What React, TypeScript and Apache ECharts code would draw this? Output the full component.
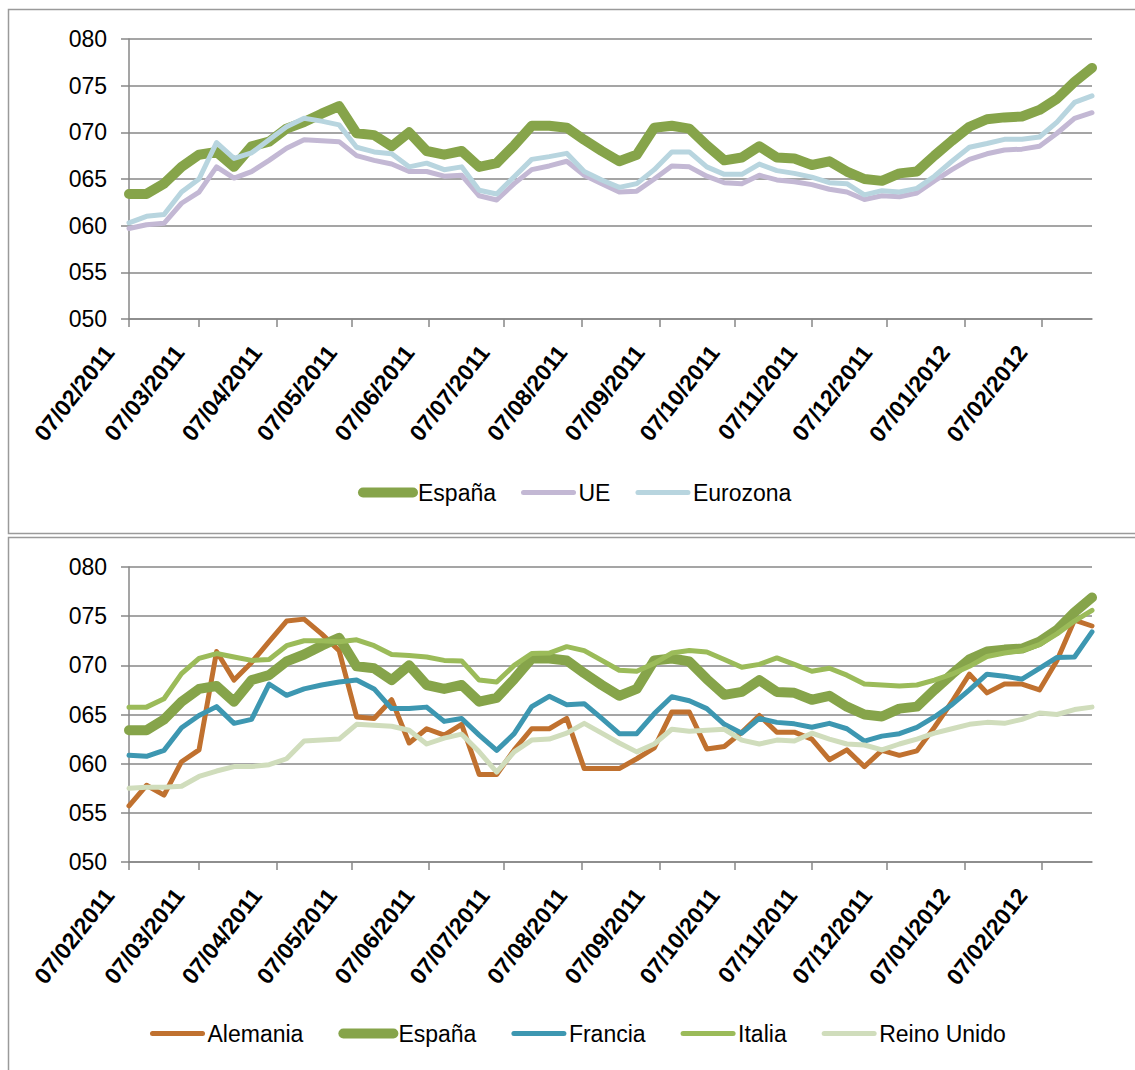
import React, { useEffect, useRef } from "react";
import * as echarts from "echarts";

// ---------- DATA ----------
const firstDate = "07/02/2011";
const lastDate = "27/02/2012";
const tickLabels = [
  "07/02/2011", "07/03/2011", "07/04/2011", "07/05/2011", "07/06/2011", "07/07/2011",
  "07/08/2011", "07/09/2011", "07/10/2011", "07/11/2011", "07/12/2011", "07/01/2012", "07/02/2012",
];

const espana = [
  63.4, 63.4, 64.5, 66.3, 67.6, 67.9, 66.3, 68.5, 69.0, 70.4,
  71.1, 72.0, 72.8, 69.9, 69.7, 68.5, 70.0, 68.0, 67.6, 68.0,
  66.3, 66.7, 68.6, 70.7, 70.7, 70.5, 69.2, 68.0, 66.9, 67.6,
  70.5, 70.7, 70.4, 68.6, 67.0, 67.3, 68.5, 67.3, 67.2, 66.5,
  66.9, 65.8, 65.0, 64.8, 65.6, 65.8, 67.5, 69.1, 70.6, 71.4,
  71.6, 71.7, 72.4, 73.6, 75.4, 76.9,
];
const ue = [
  59.7, 60.1, 60.25, 62.4, 63.6, 66.3, 65.1, 65.8, 67.0, 68.3,
  69.2, 69.1, 69.0, 67.5, 67.0, 66.6, 65.8, 65.8, 65.3, 65.4,
  63.2, 62.75, 64.5, 66.0, 66.4, 66.9, 65.4, 64.5, 63.6, 63.7,
  65.0, 66.4, 66.3, 65.3, 64.6, 64.5, 65.4, 64.9, 64.7, 64.4,
  63.9, 63.6, 62.8, 63.2, 63.1, 63.5, 64.8, 66.0, 67.1, 67.7,
  68.1, 68.2, 68.5, 69.9, 71.5, 72.1,
];
const eurozona = [
  60.3, 61.0, 61.2, 63.6, 65.0, 68.9, 67.2, 67.8, 69.2, 70.6,
  71.5, 71.2, 70.8, 68.4, 67.9, 67.7, 66.3, 66.7, 66.0, 66.3,
  63.8, 63.4, 65.25, 67.1, 67.4, 67.75, 65.8, 64.9, 64.1, 64.5,
  66.0, 67.9, 67.9, 66.3, 65.5, 65.5, 66.6, 65.9, 65.6, 65.2,
  64.6, 64.5, 63.3, 63.75, 63.6, 64.0, 65.3, 66.9, 68.4, 68.8,
  69.25, 69.25, 69.5, 71.1, 73.2, 73.9,
];
const alemania = [
  55.7, 57.8, 56.8, 60.2, 61.4, 71.4, 68.5, 70.3, 72.4, 74.5,
  74.7, 73.2, 71.5, 64.75, 64.6, 66.5, 62.1, 63.55, 62.9, 64.0,
  58.9, 58.9, 61.4, 63.55, 63.55, 64.6, 59.5, 59.5, 59.5, 60.5,
  61.6, 65.25, 65.25, 61.5, 61.75, 63.2, 64.9, 63.2, 63.2, 62.5,
  60.4, 61.4, 59.7, 61.35, 60.85, 61.3, 63.7, 66.3, 69.1, 67.2,
  68.1, 68.1, 67.5, 70.5, 74.6, 74.0,
];
const francia = [
  60.85, 60.75, 61.35, 63.66, 64.9, 65.8, 64.1, 64.5, 68.1, 66.95,
  67.6, 68.0, 68.3, 68.5, 67.6, 65.6, 65.6, 65.75, 64.3, 64.6,
  62.9, 61.35, 63.05, 65.8, 66.85, 66.0, 66.1, 64.6, 63.05, 63.05,
  65.1, 66.8, 66.4, 65.6, 64.0, 63.1, 64.6, 64.2, 64.05, 63.7,
  64.1, 63.55, 62.3, 62.8, 63.05, 63.7, 64.75, 66.0, 67.5, 69.1,
  68.9, 68.6, 69.7, 70.8, 70.85, 73.4,
];
const italia = [
  65.75, 65.75, 66.6, 69.15, 70.7, 71.2, 70.85, 70.5, 70.6, 72.0,
  72.5, 72.5, 72.4, 72.6, 72.0, 71.1, 71.0, 70.85, 70.5, 70.45,
  68.5, 68.3, 70.0, 71.2, 71.25, 71.9, 71.5, 70.5, 69.5, 69.4,
  70.2, 71.25, 71.5, 71.35, 70.6, 69.8, 70.1, 70.75, 70.1, 69.4,
  69.7, 69.0, 68.1, 68.0, 67.9, 68.0, 68.5, 69.1, 69.9, 70.9,
  71.25, 71.5, 72.1, 73.2, 74.5, 75.6,
];
const reinoUnido = [
  57.5, 57.6, 57.6, 57.7, 58.7, 59.25, 59.7, 59.7, 59.9, 60.5,
  62.3, 62.4, 62.5, 64.0, 63.9, 63.8, 63.4, 62.0, 62.6, 63.0,
  61.2, 59.15, 61.2, 62.4, 62.5, 63.1, 64.1, 63.1, 62.1, 61.2,
  62.0, 63.5, 63.3, 63.4, 63.5, 62.4, 62.0, 62.4, 62.3, 63.1,
  62.5, 62.0, 61.9, 61.4, 62.0, 62.5, 63.1, 63.55, 64.0, 64.2,
  64.1, 64.5, 65.15, 65.0, 65.5, 65.75,
];

// ---------- HELPERS ----------
const DAY = 86400000;
function parseDate(s: string): number {
  const [d, m, y] = s.split("/").map(Number);
  return Date.UTC(y, m - 1, d);
}
const origin = parseDate(firstDate);
const dayOf = (s: string) => Math.round((parseDate(s) - origin) / DAY);
const tickDays = tickLabels.map(dayOf);
const labelByDay: Record<number, string> = {};
tickLabels.forEach((t, i) => (labelByDay[tickDays[i]] = t));
const maxDay = dayOf(lastDate);
// weekly observations starting on the first date
const weekDay = (i: number) => i * 7;

const FONT = "'Liberation Sans', Arial, sans-serif";
const GRAY = "#878787";

const C = {
  espana: "#86A44A",
  ue: "#C3B8D4",
  eurozona: "#B8D5DF",
  alemania: "#C0712F",
  francia: "#3D97B1",
  italia: "#9BBB59",
  reino: "#D0DDBC",
};

function mkSeries(name: string, values: number[], color: string, width: number, idx: number) {
  return {
    type: "line",
    name,
    xAxisIndex: idx,
    yAxisIndex: idx,
    symbol: "none",
    data: values.map((v, i) => [weekDay(i), v]),
    lineStyle: { color, width, cap: "round", join: "round" },
    itemStyle: { color },
    emphasis: { disabled: true },
  };
}

function mkX(idx: number) {
  return {
    type: "value",
    gridIndex: idx,
    min: 0,
    max: maxDay,
    splitLine: { show: false },
    axisLine: { show: true, onZero: false, lineStyle: { color: GRAY, width: 1.5 } },
    axisTick: { show: true, customValues: tickDays, length: 8, lineStyle: { color: GRAY, width: 1.5 } },
    axisLabel: {
      customValues: tickDays,
      formatter: (v: number) => labelByDay[Math.round(v)] ?? "",
      rotate: 52,
      fontSize: 23,
      fontWeight: "bold",
      color: "#000",
      fontFamily: FONT,
      margin: 4,
      padding: [0, 32, 0, 0],
    },
  };
}

function mkY(idx: number) {
  return {
    type: "value",
    gridIndex: idx,
    min: 50,
    max: 80,
    interval: 5,
    axisLine: { show: true, lineStyle: { color: GRAY, width: 1.5 } },
    axisTick: { show: true, length: 8, lineStyle: { color: GRAY, width: 1.5 } },
    splitLine: { show: true, lineStyle: { color: GRAY, width: 1.5 } },
    axisLabel: {
      formatter: (v: number) => String(v).padStart(3, "0"),
      fontSize: 23,
      color: "#000",
      fontFamily: FONT,
      margin: 22,
    },
  };
}

export default function App() {
  const ref = useRef<HTMLDivElement>(null);
  useEffect(() => {
    document.body.style.margin = "0";
    document.body.style.overflow = "hidden";
    if (!ref.current) return;
    const chart = echarts.init(ref.current, undefined, { renderer: "svg" });
    const legendText = { fontSize: 23, color: "#000", fontFamily: FONT };
    chart.setOption({
      animation: false,
      backgroundColor: "#ffffff",
      textStyle: { fontFamily: FONT },
      grid: [
        { left: 129, top: 39, width: 963, height: 280, outerBoundsMode: "none" },
        { left: 129, top: 567, width: 963, height: 295, outerBoundsMode: "none" },
      ],
      xAxis: [mkX(0), mkX(1)],
      yAxis: [mkY(0), mkY(1)],
      legend: [
        {
          left: 353,
          top: 476,
          itemWidth: 50,
          itemHeight: 14,
          itemGap: 25,
          selectedMode: false,
          itemStyle: { opacity: 0 },
          textStyle: legendText,
          data: [
            { name: "España", lineStyle: { width: 10, cap: "round" } },
            { name: "UE", lineStyle: { width: 5, cap: "round" } },
            { name: "Eurozona", lineStyle: { width: 5, cap: "round" } },
          ],
        },
        {
          left: 145,
          top: 1017,
          itemWidth: 50,
          itemHeight: 14,
          itemGap: 35,
          selectedMode: false,
          itemStyle: { opacity: 0 },
          textStyle: legendText,
          data: [
            { name: "Alemania", lineStyle: { width: 5, cap: "round" } },
            { name: "España", lineStyle: { width: 10, cap: "round" } },
            { name: "Francia", lineStyle: { width: 5, cap: "round" } },
            { name: "Italia", lineStyle: { width: 5, cap: "round" } },
            { name: "Reino Unido", lineStyle: { width: 5, cap: "round" } },
          ],
        },
      ],
      series: [
        mkSeries("España", espana, C.espana, 10, 0),
        mkSeries("UE", ue, C.ue, 5, 0),
        mkSeries("Eurozona", eurozona, C.eurozona, 5, 0),
        mkSeries("Alemania", alemania, C.alemania, 5, 1),
        mkSeries("España", espana, C.espana, 10, 1),
        mkSeries("Francia", francia, C.francia, 5, 1),
        mkSeries("Italia", italia, C.italia, 5, 1),
        mkSeries("Reino Unido", reinoUnido, C.reino, 5, 1),
      ],
      graphic: [
        {
          type: "rect",
          silent: true,
          shape: { x: 8.5, y: 9.5, width: 1300, height: 524 },
          style: { fill: "none", stroke: "#9a9a9a", lineWidth: 1.5 },
        },
        {
          type: "rect",
          silent: true,
          shape: { x: 8.5, y: 537.5, width: 1300, height: 700 },
          style: { fill: "none", stroke: "#9a9a9a", lineWidth: 1.5 },
        },
      ],
    });
    return () => chart.dispose();
  }, []);
  return <div ref={ref} style={{ width: 1135, height: 1070 }} />;
}
